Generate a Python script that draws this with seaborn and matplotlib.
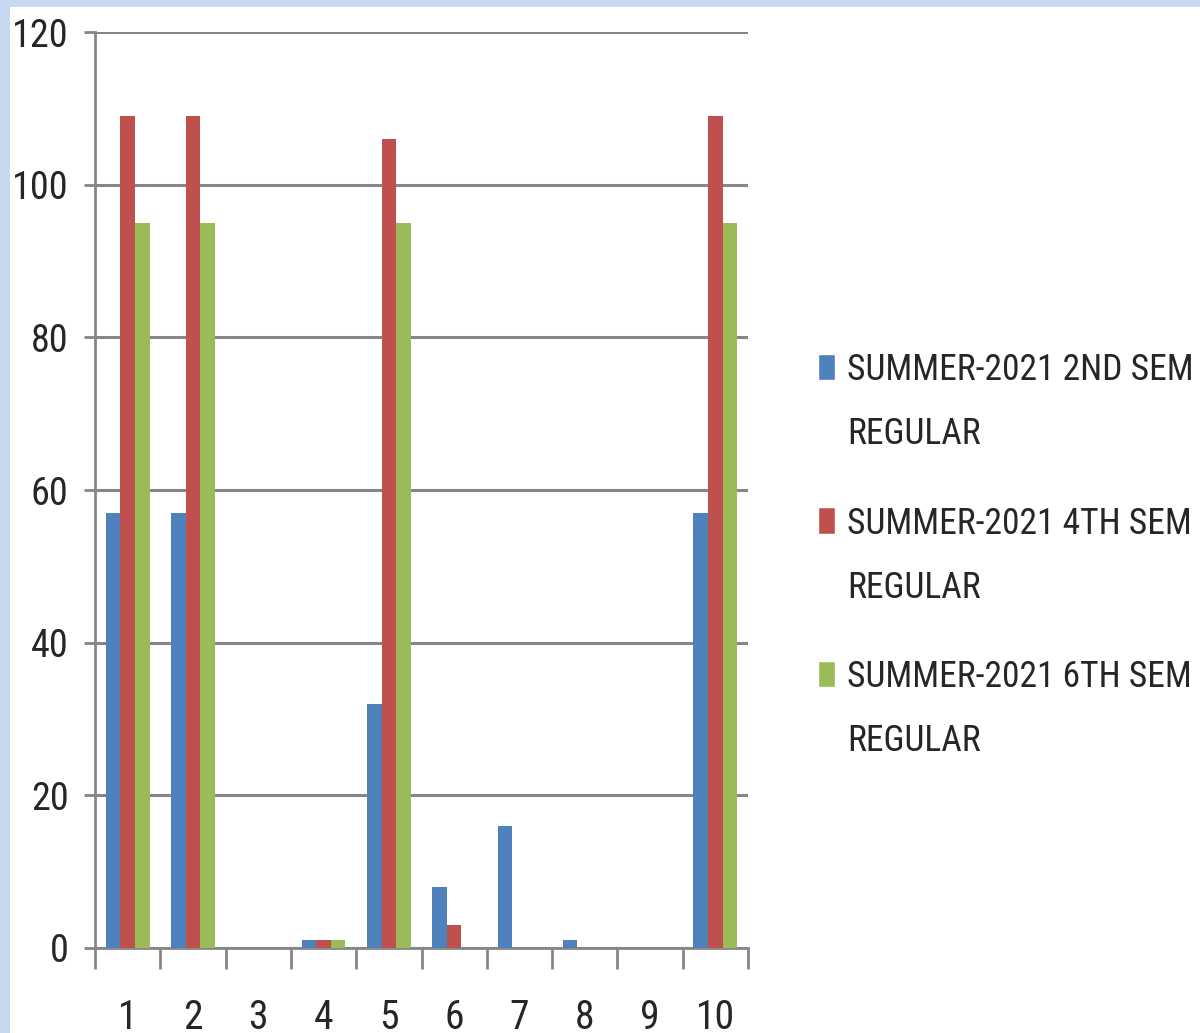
import pandas as pd
import matplotlib.pyplot as plt
import seaborn as sns
from matplotlib.patches import Rectangle
from matplotlib.legend_handler import HandlerPatch

# valeurs
categories = ['1', '2', '3', '4', '5', '6', '7', '8', '9', '10']
series_names = ['SUMMER-2021 2ND SEM\nREGULAR',
                'SUMMER-2021 4TH SEM\nREGULAR',
                'SUMMER-2021 6TH SEM\nREGULAR']
sem2 = [57, 57, 0, 1, 32, 8, 16, 1, 0, 57]
sem4 = [109, 109, 0, 1, 106, 3, 0, 0, 0, 109]
sem6 = [95, 95, 0, 1, 95, 0, 0, 0, 0, 95]
yticks = [0, 20, 40, 60, 80, 100, 120]

colors = ['#4f81bd', '#c0504d', '#9bbb59']
grey = '#868686'
font = ['Roboto Condensed', 'DejaVu Sans']

df = pd.DataFrame({
    'cat': categories * 3,
    'serie': [series_names[0]] * 10 + [series_names[1]] * 10 + [series_names[2]] * 10,
    'val': sem2 + sem4 + sem6,
})

sns.set_style('white')
plt.rcParams['font.family'] = font

fig = plt.figure(figsize=(12, 10.33), dpi=100, facecolor='#c6d9f1')
fig.patches.append(Rectangle((10 / 1200, 0), 1, 1 - 7 / 1033, transform=fig.transFigure,
                             facecolor='white', edgecolor='none', zorder=-10))
ax = fig.add_axes([95 / 1200, 1 - 948 / 1033, (748 - 95) / 1200, (948 - 32) / 1033])
ax.set_facecolor('none')

sns.barplot(data=df, x='cat', y='val', hue='serie', palette=colors, saturation=1,
            width=0.67, ax=ax, legend=False, linewidth=0, zorder=3)

ax.set_xlim(-0.5, 9.5)
ax.set_ylim(0, 120)
ax.set_yticks(yticks)
ax.set_xlabel('')
ax.set_ylabel('')

# grille et axes
ax.grid(axis='y', color=grey, linewidth=2.2, zorder=0)
ax.set_axisbelow(True)
for s in ['top', 'right']:
    ax.spines[s].set_visible(False)
for s in ['left', 'bottom']:
    ax.spines[s].set_color(grey)
    ax.spines[s].set_linewidth(2)

ax.tick_params(axis='y', length=8, width=2, color=grey, direction='out', pad=11,
               labelsize=27.5, left=True)
ax.tick_params(axis='x', which='major', length=0, pad=36, labelsize=28.5)
ax.set_xticks([i + 0.5 for i in range(-1, 10)], minor=True)
ax.tick_params(axis='x', which='minor', length=15, width=2, color=grey, direction='out', bottom=True)


# carré de légende aligné sur la première ligne
def top_patch(legend, orig_handle, xdescent, ydescent, width, height, fontsize):
    return Rectangle((-xdescent, -ydescent + 26.5), width, height)


handles = [Rectangle((0, 0), 1, 1, facecolor=c) for c in colors]
fig.legend(handles, series_names, loc='upper left', bbox_to_anchor=(818 / 1200, 1 - 352 / 1033),
           frameon=False, handlelength=0.47, handleheight=0.75, handletextpad=0.35,
           labelspacing=1.51, borderaxespad=0, borderpad=0, prop={'family': font, 'size': 25.6},
           handler_map={Rectangle: HandlerPatch(patch_func=top_patch)})
for t in fig.legends[0].get_texts():
    t.set_linespacing(2.0)

fig.savefig('out.png', dpi=100, facecolor=fig.get_facecolor())
